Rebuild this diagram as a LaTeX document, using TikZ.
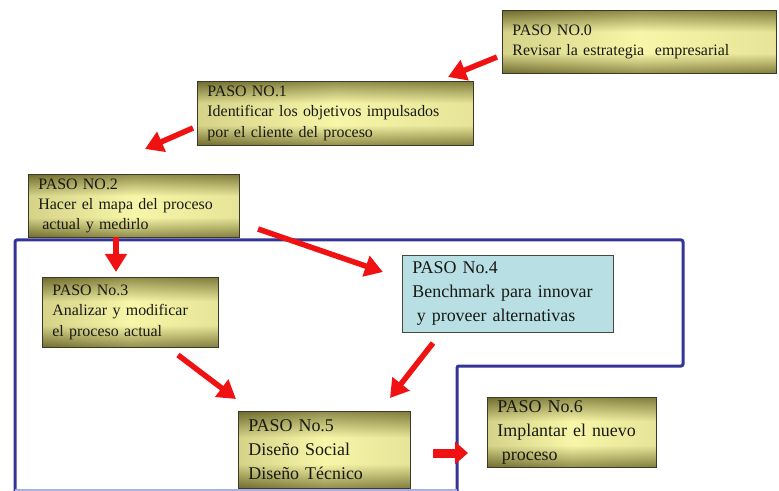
\documentclass[tikz,border=0pt]{standalone}
\usepackage{fontspec}
\setmainfont{Liberation Serif}
\usetikzlibrary{arrows.meta}
\definecolor{olived}{RGB}{112,108,46}
\definecolor{olivel}{RGB}{248,246,168}
\definecolor{boxline}{RGB}{58,58,40}
\definecolor{cyanbox}{RGB}{184,223,228}
\definecolor{frameblue}{RGB}{52,52,150}
\definecolor{framelight}{RGB}{170,175,230}
\definecolor{arrred}{RGB}{240,18,18}
\definecolor{textdark}{RGB}{25,25,20}
\pgfdeclareverticalshading{oliveshade}{100bp}{color(0bp)=(olived); color(25bp)=(olived);
  color(41bp)=(olivel); color(58bp)=(olivel); color(75bp)=(olived); color(100bp)=(olived)}
\tikzset{
  obox/.style={draw=boxline, line width=0.8bp, shading=oliveshade, anchor=north west,
    inner xsep=10bp, inner ysep=0pt, align=left, text=textdark,
    path picture={\shade[left color=olived, right color=olived!50!olivel, middle color=olivel, fill opacity=0.25]
      (path picture bounding box.south west) rectangle (path picture bounding box.north east);}},
  cbox/.style={draw=boxline!80!gray, line width=0.8bp, fill=cyanbox, anchor=north west,
    inner xsep=10bp, inner ysep=0pt, align=left, text=textdark},
  smallfont/.style={font=\fontsize{16}{20.5}\selectfont},
  bigfont/.style={font=\fontsize{18}{24}\selectfont},
  arr/.style={draw=arrred, line width=5.5bp, -{Triangle[length=18bp,width=21bp]}},
  fatarr/.style={draw=arrred, line width=9bp, -{Triangle[length=13bp,width=22bp]}},
  frame/.style={draw=frameblue, line width=3bp, rounded corners=2bp}
}
\begin{document}
\begin{tikzpicture}[x=1bp,y=-1bp]
\useasboundingbox (0,0) rectangle (779,491);
% frame
\coordinate (f1) at (457,491);
\coordinate (f2) at (457,366);
\coordinate (f3) at (683,366);
\coordinate (f4) at (683,240);
\coordinate (f5) at (15,240);
\coordinate (f6) at (15,491);
\coordinate (f7) at (15,490);
\coordinate (f8) at (457,490);
\draw[frame] (f1) -- (f2) -- (f3) -- (f4) -- (f5) -- (f6);
\draw[draw=framelight, line width=1.2bp] (f7) -- (f8);
% boxes
\node[obox, smallfont, minimum width=274bp, minimum height=63bp, text width=254bp] (b0) at (502,10)
  {PASO NO.0\\Revisar la estrategia\ \ empresarial};
\node[obox, smallfont, minimum width=276bp, minimum height=64bp, text width=256bp] (b1) at (197,81)
  {PASO NO.1\\Identificar los objetivos impulsados\\por el cliente del proceso};
\node[obox, smallfont, minimum width=211bp, minimum height=63bp, text width=191bp] (b2) at (28,174)
  {PASO NO.2\\Hacer el mapa del proceso\\\hspace*{0.25em}actual y medirlo};
\node[obox, smallfont, minimum width=176bp, minimum height=70bp, text width=156bp] (b3) at (42,277)
  {PASO No.3\\Analizar y modificar\\el proceso actual};
\node[cbox, bigfont, minimum width=211bp, minimum height=77bp, text width=191bp] (b4) at (402,255)
  {PASO No.4\\Benchmark para innovar\\\hspace*{0.25em}y proveer alternativas};
\node[obox, bigfont, minimum width=172bp, minimum height=77bp, text width=152bp] (b5) at (238,411)
  {PASO No.5\\Diseño Social\\Diseño Técnico};
\node[obox, bigfont, minimum width=169bp, minimum height=70bp, text width=149bp] (b6) at (487,397)
  {PASO No.6\\Implantar el nuevo\\\hspace*{0.25em}proceso};
% arrow ends
\coordinate (a01s) at (497,57);  \coordinate (a01e) at (448,77);
\coordinate (a12s) at (193,128); \coordinate (a12e) at (145,149);
\coordinate (a23s) at (116,237); \coordinate (a23e) at (116,272);
\coordinate (a24s) at (258,229); \coordinate (a24e) at (383,272);
\coordinate (a35s) at (178,355); \coordinate (a35e) at (236,399);
\coordinate (a45s) at (433,343); \coordinate (a45e) at (390,398);
\coordinate (a56s) at (433,453); \coordinate (a56e) at (468,453);
\draw[arr] (a01s) -- (a01e);
\draw[arr] (a12s) -- (a12e);
\draw[arr] (a23s) -- (a23e);
\draw[arr] (a24s) -- (a24e);
\draw[arr] (a35s) -- (a35e);
\draw[arr] (a45s) -- (a45e);
\draw[fatarr] (a56s) -- (a56e);
\end{tikzpicture}
\end{document}
